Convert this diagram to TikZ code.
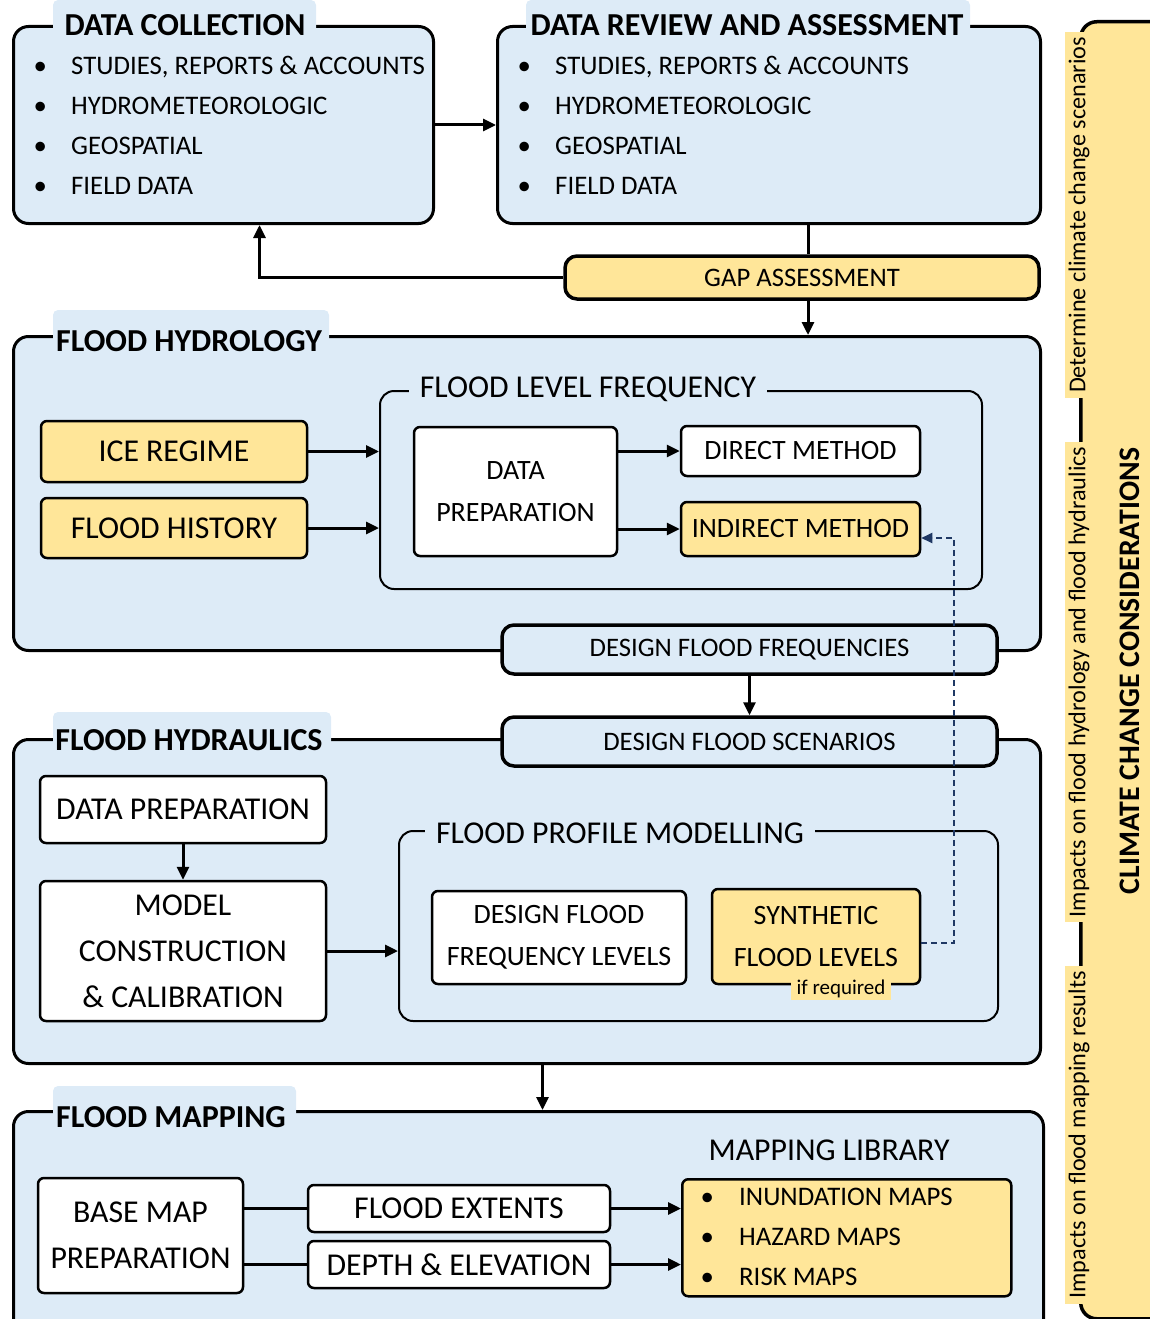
\documentclass[tikz,border=0pt]{standalone}
\usepackage{fontspec}
\setmainfont{Carlito}
\usetikzlibrary{arrows.meta,positioning}

\definecolor{paleblue}{RGB}{221,235,247}
\definecolor{paleyellow}{RGB}{255,230,153}
\definecolor{navy}{RGB}{31,56,100}

\tikzset{
  panel/.style={draw, line width=3pt, rounded corners=15pt, fill=paleblue, anchor=north west, inner sep=0pt},
  subpanel/.style={draw, line width=2pt, rounded corners=14pt, fill=paleblue, anchor=north west, inner sep=0pt},
  tab/.style={fill=paleblue, rounded corners=5pt},
  maintitle/.style={font=\fontsize{32}{36}\selectfont\bfseries, inner sep=0pt},
  subtitle/.style={fill=paleblue, font=\fontsize{31.8}{36}\selectfont, inner xsep=11pt, inner ysep=2pt},
  bullets/.style={align=left, anchor=west, inner sep=0pt, font=\fontsize{26.8}{40}\selectfont},
  whitebox/.style={draw, line width=2.5pt, rounded corners=6pt, fill=white, align=center, inner sep=0pt},
  yellowbox/.style={whitebox, fill=paleyellow},
  pill/.style={draw, line width=3.5pt, rounded corners=12pt, inner sep=0pt, font=\fontsize{26.7}{30}\selectfont},
  big/.style={font=\fontsize{31.8}{46}\selectfont},
  mid/.style={font=\fontsize{28}{42}\selectfont},
  conn/.style={line width=3pt},
  arr/.style={conn, -{Triangle[length=13pt,width=12pt]}},
  dasharr/.style={line width=2pt, navy, dash pattern=on 6pt off 4pt, -{Triangle[length=11pt,width=10pt]}},
  sidelabel/.style={fill=paleyellow, rotate=90, inner xsep=5pt, inner ysep=4pt, font=\fontsize{24.2}{28}\selectfont},
}

\begin{document}
\begin{tikzpicture}[x=1pt,y=-1pt]
\useasboundingbox (0,0) rectangle (1150,1319);

% climate change column
\node[panel, fill=paleyellow, line width=3.5pt, rounded corners=16pt, minimum width=150pt, minimum height=1297pt] (cc) at (1079,20) {};
\node[sidelabel] (ccscen) at (1079,215) {Determine climate change scenarios};
\node[sidelabel] (cchyd) at (1079,682) {Impacts on flood hydrology and flood hydraulics};
\node[sidelabel] (ccmap) at (1079,1135) {Impacts on flood mapping results};
\node[maintitle, rotate=90, font=\fontsize{29.8}{32}\selectfont\bfseries] (cctitle) at (1130,671) {CLIMATE CHANGE CONSIDERATIONS};

% data collection and review
\node[panel, minimum width=420pt, minimum height=197pt] (dc) at (12,25) {};
\fill[tab] (53,0) rectangle (316,40);
\node[maintitle] (dctitle) at (185,25) {DATA COLLECTION};
\node[bullets] (dclist) at (33.5,125) {\makebox[37.5pt][l]{\textbullet}STUDIES, REPORTS \& ACCOUNTS\\
  \makebox[37.5pt][l]{\textbullet}HYDROMETEOROLOGIC\\
  \makebox[37.5pt][l]{\textbullet}GEOSPATIAL\\
  \makebox[37.5pt][l]{\textbullet}FIELD DATA};

\node[panel, minimum width=543pt, minimum height=197pt] (dr) at (496,25) {};
\fill[tab] (526,0) rectangle (970,40);
\node[maintitle] (drtitle) at (747,25) {DATA REVIEW AND ASSESSMENT};
\node[bullets] (drlist) at (517.5,125) {\makebox[37.5pt][l]{\textbullet}STUDIES, REPORTS \& ACCOUNTS\\
  \makebox[37.5pt][l]{\textbullet}HYDROMETEOROLOGIC\\
  \makebox[37.5pt][l]{\textbullet}GEOSPATIAL\\
  \makebox[37.5pt][l]{\textbullet}FIELD DATA};

\node[pill, fill=paleyellow, minimum width=474pt, minimum height=43pt] (gap) at (802,277.5) {GAP ASSESSMENT};

\draw[arr] (dc.east) -- (dr.west);
\draw[conn] ([xshift=6pt]gap.north) -- ([xshift=6pt]gap.north |- dr.south);
\draw[arr] (gap.west) -| ([xshift=36pt]dc.south);

% flood hydrology
\node[panel, minimum width=1027pt, minimum height=314pt] (fhy) at (12,335) {};
\fill[tab] (53,310) rectangle (329,350);
\node[maintitle] (fhytitle) at (189,341) {FLOOD HYDROLOGY};
\draw[arr] ([xshift=6pt]gap.south) -- ([xshift=6pt]gap.south |- fhy.north);

\node[yellowbox, big, minimum width=266pt, minimum height=61pt] (ice) at (174,451.5) {ICE REGIME};
\node[yellowbox, big, minimum width=266pt, minimum height=60pt] (hist) at (174,528) {FLOOD HISTORY};

\node[subpanel, minimum width=602pt, minimum height=198pt] (flf) at (379,390) {};
\node[subtitle] (flftitle) at (588,389) {FLOOD LEVEL FREQUENCY};
\node[whitebox, mid, minimum width=203pt, minimum height=129pt] (dprep) at (515.5,491.5) {DATA\\PREPARATION};
\node[whitebox, mid, minimum width=239pt, minimum height=50pt] (direct) at (800.5,451) {DIRECT METHOD};
\node[yellowbox, mid, minimum width=239pt, minimum height=54pt] (indirect) at (800.5,529) {INDIRECT METHOD};

\draw[arr] (ice.east) -- (ice.east -| flf.west);
\draw[arr] (hist.east) -- (hist.east -| flf.west);
\draw[arr] (dprep.east |- direct) -- (direct.west);
\draw[arr] (dprep.east |- indirect) -- (indirect.west);

% flood hydraulics
\node[panel, minimum width=1027pt, minimum height=324pt] (fhd) at (12,738) {};
\fill[tab] (53,712) rectangle (331,752);
\node[maintitle] (fhdtitle) at (189,740) {FLOOD HYDRAULICS};

\node[pill, fill=paleblue, minimum width=495pt, minimum height=49pt] (dff) at (749.5,649.5) {DESIGN FLOOD FREQUENCIES};
\node[pill, fill=paleblue, minimum width=495pt, minimum height=49pt] (dfs) at (749.5,741.5) {DESIGN FLOOD SCENARIOS};
\draw[arr] (dff.south) -- (dfs.north);

\node[whitebox, big, minimum width=286pt, minimum height=67pt] (hprep) at (183,809.5) {DATA PREPARATION};
\node[whitebox, big, minimum width=286pt, minimum height=140pt] (model) at (183,951) {MODEL\\CONSTRUCTION\\\& CALIBRATION};
\draw[arr] (hprep.south) -- (model.north);

\node[subpanel, minimum width=599pt, minimum height=190pt] (fpm) at (398,830) {};
\node[subtitle] (fpmtitle) at (620,833) {FLOOD PROFILE MODELLING};
\node[whitebox, mid, minimum width=254pt, minimum height=93pt] (dffl) at (559,937.5) {DESIGN FLOOD\\FREQUENCY LEVELS};
\node[yellowbox, mid, minimum width=208pt, minimum height=95pt] (sfl) at (816,936.5) {SYNTHETIC\\FLOOD LEVELS};
\node[fill=paleyellow, inner xsep=6pt, inner ysep=2pt, font=\fontsize{21}{24}\selectfont] (ifreq) at (841,989) {if required};

\draw[arr] (model.east) -- (model.east -| fpm.west);
\draw[dasharr] ([yshift=-6pt]sfl.east) -- ++(33,0) |- ([yshift=-9pt]indirect.east);

% flood mapping
\node[panel, minimum width=1030pt, minimum height=260pt] (fm) at (12,1110) {};
\fill[tab] (53,1086) rectangle (296,1126);
\node[maintitle] (fmtitle) at (171,1117) {FLOOD MAPPING};
\draw[arr] ([xshift=15.5pt]fhd.south) -- ([xshift=15.5pt]fhd.south |- fm.north);

\node[whitebox, big, minimum width=205pt, minimum height=115pt] (base) at (140.5,1235.5) {BASE MAP\\PREPARATION};
\node[whitebox, big, minimum width=302pt, minimum height=47pt] (extent) at (459,1208.5) {FLOOD EXTENTS};
\node[whitebox, big, minimum width=302pt, minimum height=47pt] (depth) at (459,1264.5) {DEPTH \& ELEVATION};
\node[yellowbox, anchor=north west, minimum width=329pt, minimum height=117pt] (lib) at (681,1178) {};
\node[bullets] (liblist) at (700.5,1237) {\makebox[38.5pt][l]{\textbullet}INUNDATION MAPS\\
  \makebox[38.5pt][l]{\textbullet}HAZARD MAPS\\
  \makebox[38.5pt][l]{\textbullet}RISK MAPS};
\node[big] (libtitle) at (829,1150) {MAPPING LIBRARY};

\draw[conn] (base.east |- extent) -- (extent.west);
\draw[conn] (base.east |- depth) -- (depth.west);
\draw[arr] (extent.east) -- (extent.east -| lib.west);
\draw[arr] (depth.east) -- (depth.east -| lib.west);
\end{tikzpicture}
\end{document}
